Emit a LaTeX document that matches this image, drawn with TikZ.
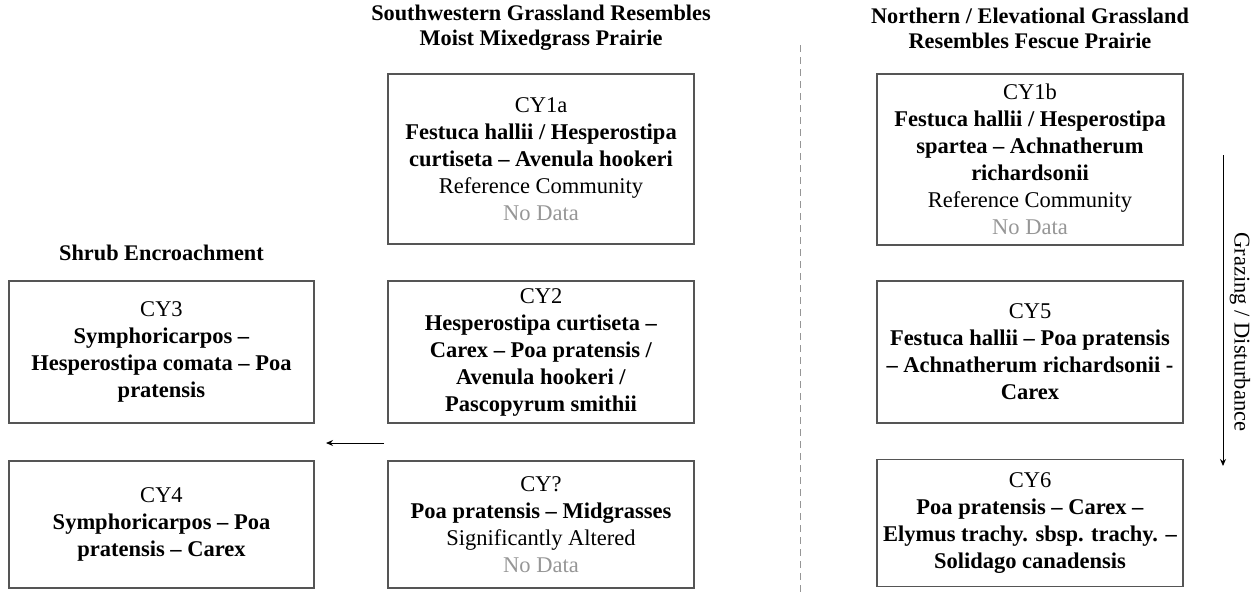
\documentclass[tikz,border=0pt]{standalone}
\usepackage{fontspec}
\setmainfont{Liberation Serif}
\usetikzlibrary{arrows.meta}
\definecolor{boxline}{RGB}{85,85,85}
\definecolor{nodata}{RGB}{150,150,150}
\begin{document}
\begin{tikzpicture}[x=1pt,y=-1pt,
  cybox/.style={draw=boxline,line width=1.6pt,rectangle,minimum width=306pt,align=center,inner sep=0pt,font=\fontsize{22.5}{27}\selectfont},
  head/.style={align=center,font=\fontsize{22.3}{25}\selectfont\bfseries},
  nd/.style={text=nodata}]
\useasboundingbox (0,0) rectangle (1259,592);
% headers
\node[head] (h1) at (541,28) {Southwestern Grassland Resembles\\Moist Mixedgrass Prairie};
\node[head] (h2) at (1030,28) {Northern / Elevational Grassland\\Resembles Fescue Prairie};
\node[head] (h3) at (161.5,253) {Shrub Encroachment};
% boxes
\node[cybox,minimum height=170pt] (cy1a) at (541,159) {CY1a\\\textbf{Festuca hallii / Hesperostipa}\\\textbf{curtiseta – Avenula hookeri}\\Reference Community\\\textcolor{nodata}{No Data}};
\node[cybox,minimum height=171pt] (cy1b) at (1030,159.5) {CY1b\\\textbf{Festuca hallii / Hesperostipa}\\\textbf{spartea – Achnatherum}\\\textbf{richardsonii}\\Reference Community\\\textcolor{nodata}{No Data}};
\node[cybox,minimum width=305pt,minimum height=142pt] (cy3) at (161.5,352) {CY3\\\textbf{Symphoricarpos –}\\\textbf{Hesperostipa comata – Poa}\\\textbf{pratensis}};
\node[cybox,minimum height=142pt] (cy2) at (541,352) {CY2\\\textbf{Hesperostipa curtiseta –}\\\textbf{Carex – Poa pratensis /}\\\textbf{Avenula hookeri /}\\\textbf{Pascopyrum smithii}};
\node[cybox,minimum height=142pt] (cy5) at (1030,352) {CY5\\\textbf{Festuca hallii – Poa pratensis}\\\textbf{– Achnatherum richardsonii -}\\\textbf{Carex}};
\node[cybox,minimum width=305pt,minimum height=127pt] (cy4) at (161.5,524.5) {CY4\\\textbf{Symphoricarpos – Poa}\\\textbf{pratensis – Carex}};
\node[cybox,minimum height=127pt] (cyq) at (541,524.5) {CY?\\\textbf{Poa pratensis – Midgrasses}\\Significantly Altered\\\textcolor{nodata}{No Data}};
\node[cybox,minimum height=127pt] (cy6) at (1030,523) {CY6\\\textbf{Poa pratensis – Carex –}\\\textbf{Elymus trachy. sbsp. trachy. –}\\\textbf{Solidago canadensis}};
% dashed divider
\coordinate (d1) at (800,45);
\coordinate (d2) at (800,592);
\draw[nodata,line width=1pt,dash pattern=on 7pt off 5pt] (d1) -- (d2);
% shrub arrow
\coordinate (a1) at (384,443);
\coordinate (a2) at (326,443);
\draw[line width=1pt,-{Stealth[length=7pt,width=6pt]}] (a1) -- (a2);
% grazing arrow
\coordinate (g1) at (1223,155);
\coordinate (g2) at (1223,466);
\draw[line width=1pt,-{Stealth[length=7pt,width=6pt]}] (g1) -- (g2);
\node[rotate=-90,font=\fontsize{22.5}{27}\selectfont] (gl) at (1240,332) {Grazing / Disturbance};
\end{tikzpicture}
\end{document}
